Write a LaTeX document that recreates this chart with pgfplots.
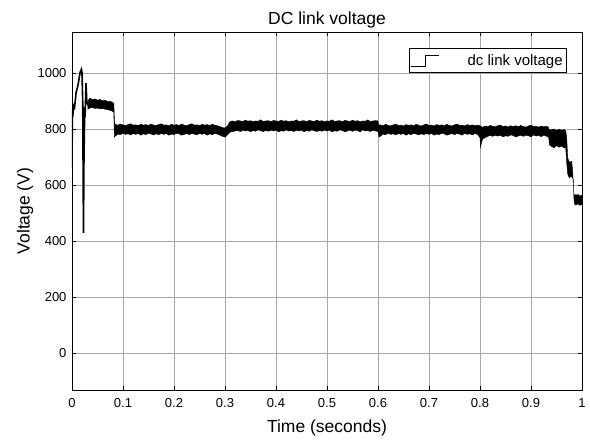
\documentclass[border=0pt]{standalone}
\usepackage{fontspec}
\setmainfont{Liberation Sans}
\usepackage{pgfplots}
\pgfplotsset{compat=1.18}
\begin{document}
\begin{tikzpicture}
\begin{axis}[
  at={(0,0)}, anchor=south west,
  scale only axis, width=510pt, height=358pt,
  xmin=0, xmax=1, ymin=-132, ymax=1148,
  xtick={0,0.1,0.2,0.3,0.4,0.5,0.6,0.7,0.8,0.9,1},
  xticklabels={0,0.1,0.2,0.3,0.4,0.5,0.6,0.7,0.8,0.9,1},
  ytick={0,200,400,600,800,1000},
  yticklabels={0,200,400,600,800,1000},
  grid=major,
  major grid style={gray!70, line width=0.7pt},
  axis line style={black, line width=0.8pt},
  tick align=inside, major tick length=4pt,
  tick style={black, line width=0.7pt},
  ticklabel style={font=\fontsize{13}{13}\selectfont},
  xticklabel style={yshift=-5pt},
  yticklabel style={xshift=-2pt},
  xlabel={Time (seconds)}, ylabel={Voltage (V)}, title={DC link voltage},
  label style={font=\fontsize{17.5}{17.5}\selectfont},
  xlabel style={at={(axis description cs:0.5,-0.106)}, anchor=center},
  ylabel style={at={(axis description cs:-0.0922,0.5)}, anchor=center},
  every axis title shift=0pt,
  title style={at={(axis description cs:0.5,1.0335)}, anchor=center, font=\fontsize{17.5}{17.5}\selectfont},
  legend style={at={(axis description cs:0.9706,0.955)}, anchor=north east,
    draw=black, line width=0.6pt, font=\fontsize{15}{15}\selectfont,
    inner xsep=2pt, inner ysep=4pt, row sep=0pt},
  legend image code/.code={\draw[black, line width=0.6pt] (0pt,-5.5pt) -- (14pt,-5.5pt) -- (14pt,5.5pt) -- (28pt,5.5pt);},
]
% noisy steady-state band (upper envelope forward, lower envelope backward)
\addplot[draw=black, fill=black, line width=0.4pt, forget plot] coordinates {
(0.031,900) (0.035,912) (0.04,906) (0.045,909) (0.05,904) (0.055,907) (0.06,902) (0.065,904) (0.07,899) (0.075,900) (0.08,896) (0.082,893) (0.0835,822)
(0.085,818) (0.09,815) (0.095,819) (0.10,816) (0.105,814) (0.11,817) (0.115,820) (0.12,815) (0.125,816) (0.13,814) (0.135,818) (0.14,815)
(0.145,817) (0.15,814) (0.155,819) (0.16,815) (0.165,814) (0.17,817) (0.175,820) (0.18,815) (0.185,816) (0.19,813) (0.195,818) (0.2,815)
(0.205,817) (0.21,814) (0.215,819) (0.22,815) (0.225,813) (0.23,817) (0.235,820) (0.24,815) (0.245,816) (0.25,813) (0.255,818) (0.26,815)
(0.265,817) (0.27,814) (0.275,818) (0.28,815) (0.285,813) (0.29,810) (0.295,806) (0.3,805) (0.305,812) (0.31,828)
(0.315,830) (0.32,827) (0.325,832) (0.33,830) (0.335,828) (0.34,833) (0.345,829) (0.35,831) (0.355,827) (0.36,830) (0.365,829) (0.37,834)
(0.375,828) (0.38,830) (0.385,831) (0.39,827) (0.395,832) (0.4,830) (0.405,828) (0.41,833) (0.415,829) (0.42,831) (0.425,827) (0.43,830)
(0.435,829) (0.44,834) (0.445,828) (0.45,830) (0.455,831) (0.46,827) (0.465,832) (0.47,830) (0.475,828) (0.48,833) (0.485,829) (0.49,831)
(0.495,827) (0.5,830) (0.505,829) (0.51,834) (0.515,828) (0.52,830) (0.525,831) (0.53,827) (0.535,832) (0.54,830) (0.545,828) (0.55,833)
(0.555,829) (0.56,831) (0.565,827) (0.57,830) (0.575,829) (0.58,834) (0.585,828) (0.59,830) (0.595,831) (0.6,830) (0.601,816)
(0.605,816) (0.61,813) (0.615,818) (0.62,814) (0.625,812) (0.63,816) (0.635,819) (0.64,814) (0.645,815) (0.65,812) (0.655,817) (0.66,814)
(0.665,816) (0.67,813) (0.675,818) (0.68,814) (0.685,812) (0.69,816) (0.695,819) (0.7,814) (0.705,815) (0.71,812) (0.715,817) (0.72,814)
(0.725,816) (0.73,813) (0.735,818) (0.74,814) (0.745,812) (0.75,816) (0.755,819) (0.76,814) (0.765,815) (0.77,812) (0.775,817) (0.78,814)
(0.785,816) (0.79,813) (0.795,815) (0.8,813)
(0.805,807) (0.81,812) (0.815,810) (0.82,814) (0.825,811) (0.83,809) (0.835,813) (0.84,815) (0.845,810) (0.85,812) (0.855,808) (0.86,813)
(0.865,810) (0.87,813) (0.875,809) (0.88,814) (0.885,810) (0.89,808) (0.895,812) (0.9,815) (0.905,810) (0.91,811) (0.915,808) (0.92,812)
(0.925,809) (0.93,811) (0.934,808)
(0.935,800) (0.94,798) (0.945,801) (0.95,796) (0.955,800) (0.96,797) (0.965,799) (0.968,795)
(0.97,770) (0.972,700) (0.974,686) (0.977,683) (0.98,685) (0.982,640) (0.984,568) (0.988,565) (0.992,567) (0.996,562) (1.0,564)
(1.0,532) (0.996,528) (0.992,534) (0.988,529) (0.985,533) (0.984,560) (0.983,620) (0.981,628) (0.978,632) (0.975,627) (0.972,640) (0.97,680) (0.968,735)
(0.965,733) (0.96,740) (0.955,736) (0.95,742) (0.945,734) (0.94,739) (0.936,745) (0.935,770)
(0.93,776) (0.925,779) (0.92,774) (0.915,778) (0.91,776) (0.905,780) (0.9,773) (0.895,777) (0.89,779) (0.885,775) (0.88,779) (0.875,776)
(0.87,773) (0.865,778) (0.86,780) (0.855,775) (0.85,777) (0.845,773) (0.84,779) (0.835,776) (0.83,779) (0.825,775) (0.82,778) (0.815,775)
(0.81,770) (0.805,765) (0.802,745) (0.801,735) (0.8,770)
(0.795,782) (0.79,785) (0.785,780) (0.78,784) (0.775,782) (0.77,786) (0.765,779) (0.76,783) (0.755,785) (0.75,781) (0.745,785) (0.74,782)
(0.735,779) (0.73,784) (0.725,786) (0.72,781) (0.715,783) (0.71,779) (0.705,785) (0.7,782) (0.695,785) (0.69,781) (0.685,784) (0.68,780)
(0.675,783) (0.67,786) (0.665,781) (0.66,784) (0.655,779) (0.65,785) (0.645,782) (0.64,785) (0.635,780) (0.63,784) (0.625,782) (0.62,786)
(0.615,781) (0.61,783) (0.605,776) (0.602,772) (0.6,792)
(0.595,794) (0.59,797) (0.585,792) (0.58,796) (0.575,794) (0.57,798) (0.565,791) (0.56,795) (0.555,797) (0.55,793) (0.545,797) (0.54,794)
(0.535,791) (0.53,796) (0.525,798) (0.52,793) (0.515,795) (0.51,791) (0.505,797) (0.5,794) (0.495,797) (0.49,793) (0.485,796) (0.48,792)
(0.475,795) (0.47,798) (0.465,793) (0.46,796) (0.455,791) (0.45,797) (0.445,794) (0.44,797) (0.435,792) (0.43,796) (0.425,794) (0.42,798)
(0.415,793) (0.41,795) (0.405,791) (0.4,797) (0.395,794) (0.39,797) (0.385,793) (0.38,796) (0.375,792) (0.37,795) (0.365,798) (0.36,793)
(0.355,796) (0.35,791) (0.345,797) (0.34,794) (0.335,797) (0.33,792) (0.325,796) (0.32,794) (0.315,792) (0.31,790) (0.305,780)
(0.3,772) (0.295,775) (0.29,779) (0.285,783) (0.28,785) (0.275,781) (0.27,784) (0.265,779) (0.26,785) (0.255,782) (0.25,786) (0.245,780)
(0.24,783) (0.235,785) (0.23,781) (0.225,785) (0.22,782) (0.215,779) (0.21,784) (0.205,786) (0.2,781) (0.195,783) (0.19,779) (0.185,785)
(0.18,782) (0.175,785) (0.17,781) (0.165,784) (0.16,780) (0.155,783) (0.15,786) (0.145,781) (0.14,784) (0.135,779) (0.13,785) (0.125,782)
(0.12,785) (0.115,780) (0.11,784) (0.105,782) (0.1,786) (0.095,781) (0.09,783) (0.085,776) (0.083,772)
(0.082,860) (0.08,864) (0.075,868) (0.07,870) (0.065,872) (0.06,874) (0.055,873) (0.05,876) (0.045,875) (0.04,878) (0.035,876) (0.031,872)
} -- cycle;
% start-up transient
\addplot[black, line width=1.6pt] coordinates {
(0,660) (0.0008,870) (0.0015,845) (0.003,885) (0.005,878) (0.008,930) (0.012,960) (0.016,1005) (0.0185,1015) (0.0195,1005)
(0.021,900) (0.0225,430) (0.0235,700) (0.025,880) (0.026,870) (0.0275,965) (0.029,900) (0.031,885)
};
\addlegendentry{\hspace{26pt}dc link voltage}
\end{axis}
\pgfresetboundingbox
\path (-72pt,-50pt) rectangle (518pt,390pt);
\end{tikzpicture}
\end{document}
